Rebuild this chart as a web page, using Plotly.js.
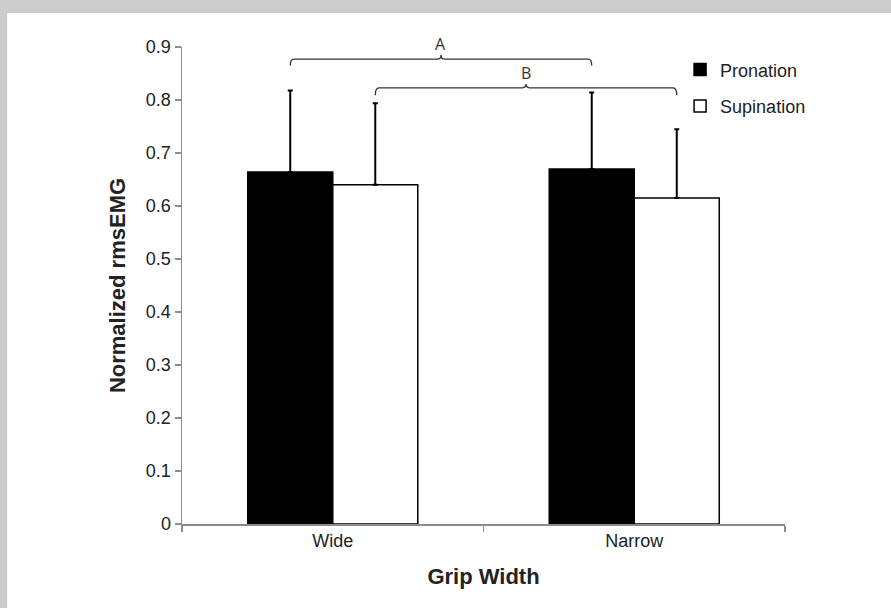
<!DOCTYPE html>
<html>
<head>
<meta charset="utf-8">
<script src="https://cdn.plot.ly/plotly-3.0.1.min.js"></script>
<style>html,body{margin:0;padding:0;background:#cccccc;}#chart{width:891px;height:608px;}</style>
</head>
<body>
<div id="chart"></div>
<script>
// ---- data ----
const categories = ["Wide", "Narrow"];
const seriesNames = ["Pronation", "Supination"];
const pronation = [0.664, 0.670];
const pronationErr = [0.154, 0.144];
const supination = [0.640, 0.615];
const supinationErr = [0.154, 0.130];
const yTicks = [0, 0.1, 0.2, 0.3, 0.4, 0.5, 0.6, 0.7, 0.8, 0.9];
const yTickLabels = ["0", "0.1", "0.2", "0.3", "0.4", "0.5", "0.6", "0.7", "0.8", "0.9"];
const bracketLabels = ["A", "B"];

const font = "Liberation Sans, Arial, sans-serif";

const traces = [
  {
    type: "bar", name: seriesNames[0], x: categories, y: pronation,
    legendgroup: "p",
    marker: {color: "#000000", line: {color: "#000000", width: 1.5}},
    error_y: {type: "data", array: pronationErr, symmetric: false, arrayminus: [0, 0], color: "#000000", thickness: 2, width: 2.5}
  },
  {
    type: "bar", name: seriesNames[1], x: categories, y: supination,
    legendgroup: "s",
    marker: {color: "#ffffff", line: {color: "#000000", width: 1.5}},
    error_y: {type: "data", array: supinationErr, symmetric: false, arrayminus: [0, 0], color: "#000000", thickness: 2, width: 2.5}
  }
];

// bracket geometry (category index units / y-data units)
const bw = 0.141;   // half bar offset
function brace(x0, x1, yH, yEnd, yTop) {
  const xc = (x0 + x1) / 2, d = 0.012;
  return `M${x0},${yEnd} Q${x0},${yH} ${x0 + d},${yH} L${xc - d},${yH} Q${xc},${yH} ${xc},${yTop} Q${xc},${yH} ${xc + d},${yH} L${x1 - d},${yH} Q${x1},${yH} ${x1},${yEnd}`;
}

const layout = {
  width: 891, height: 608,
  margin: {l: 182, r: 106, t: 47, b: 84},
  paper_bgcolor: "#cccccc",
  plot_bgcolor: "#ffffff",
  barmode: "group",
  bargap: 0.436,
  bargroupgap: 0,
  font: {family: font, color: "#222222", size: 18},
  showlegend: true,
  legend: {
    x: 0.826, y: 0.991, xanchor: "left", yanchor: "top",
    bgcolor: "rgba(0,0,0,0)", borderwidth: 0,
    font: {family: font, size: 18, color: "#222222"},
    tracegroupgap: 10, traceorder: "grouped"
  },
  xaxis: {
    type: "category",
    title: {text: "<b>Grip Width</b>", font: {family: font, size: 22, color: "#222222"}, standoff: 18},
    showline: true, linecolor: "#8c8c8c", linewidth: 1.5,
    ticks: "outside", tickson: "boundaries", ticklen: 6, tickcolor: "#8c8c8c", tickwidth: 1.5,
    tickfont: {family: font, size: 18, color: "#222222"},
    showgrid: false, zeroline: false, fixedrange: true
  },
  yaxis: {
    range: [0, 0.9],
    tickvals: yTicks, ticktext: yTickLabels,
    title: {text: "<b>Normalized rmsEMG</b>", font: {family: font, size: 22, color: "#222222"}, standoff: 14},
    showline: true, linecolor: "#8c8c8c", linewidth: 1.5,
    ticks: "outside", ticklen: 6, tickcolor: "#8c8c8c", tickwidth: 1.5,
    tickfont: {family: font, size: 18, color: "#222222"},
    showgrid: false, zeroline: false, fixedrange: true
  },
  shapes: [
    {type: "rect", xref: "paper", yref: "paper", x0: -0.29, x1: 1.5, y0: -0.5, y1: 1.0713,
     fillcolor: "#ffffff", line: {width: 0}, layer: "below"},
    {type: "path", xref: "x", yref: "y", path: brace(-bw, 1 - bw, 0.877, 0.865, 0.885),
     line: {color: "#333333", width: 1.3}},
    {type: "path", xref: "x", yref: "y", path: brace(bw, 1 + bw, 0.823, 0.809, 0.830),
     line: {color: "#333333", width: 1.3}}
  ],
  annotations: [
    {x: 0.5 - bw, xref: "x", y: 0.882, yref: "y", text: bracketLabels[0], showarrow: false,
     yanchor: "bottom", font: {family: "Open Sans, Liberation Sans, sans-serif", size: 16, color: "#333333"}},
    {x: 0.5 + bw, xref: "x", y: 0.827, yref: "y", text: bracketLabels[1], showarrow: false,
     yanchor: "bottom", font: {family: "Open Sans, Liberation Sans, sans-serif", size: 16, color: "#333333"}}
  ]
};

Plotly.newPlot("chart", traces, layout, {displayModeBar: false, staticPlot: true});
</script>
</body>
</html>
